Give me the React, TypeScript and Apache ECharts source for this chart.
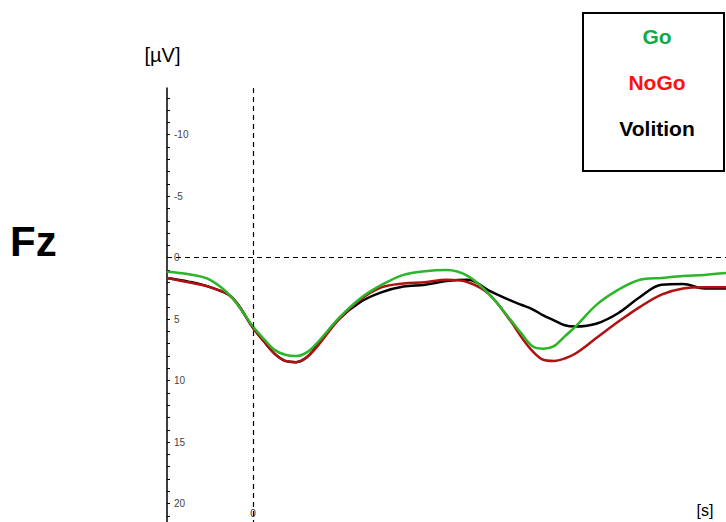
import React, { useEffect, useRef } from "react";
import * as echarts from "echarts";

const times = [-0.2, -0.15, -0.1, -0.05, 0, 0.025, 0.05, 0.075, 0.1, 0.125, 0.15, 0.2, 0.25, 0.3, 0.35, 0.4, 0.45, 0.5, 0.55, 0.6, 0.625, 0.65, 0.675, 0.7, 0.725, 0.75, 0.8, 0.85, 0.9, 0.95, 1.0, 1.05, 1.1];

const volition = [1.65, 1.95, 2.4, 3.2, 5.7, 6.8, 7.8, 8.4, 8.5, 8.1, 7.1, 5.0, 3.6, 2.8, 2.35, 2.2, 1.9, 1.8, 2.7, 3.5, 3.85, 4.2, 4.7, 5.1, 5.5, 5.6, 5.35, 4.5, 3.2, 2.2, 2.15, 2.5, 2.5];
const nogo = [1.65, 2.0, 2.4, 3.2, 5.7, 6.8, 7.8, 8.4, 8.5, 8.1, 7.2, 5.0, 3.4, 2.4, 2.1, 2.0, 1.8, 2.0, 3.0, 5.2, 6.5, 7.6, 8.3, 8.4, 8.2, 7.8, 6.5, 5.2, 4.0, 3.0, 2.5, 2.4, 2.4];
const go = [1.15, 1.35, 1.8, 3.2, 5.6, 6.6, 7.5, 7.9, 8.0, 7.7, 6.9, 4.9, 3.3, 2.2, 1.4, 1.1, 1.0, 1.5, 3.0, 5.1, 6.2, 7.2, 7.4, 7.2, 6.4, 5.6, 3.8, 2.6, 1.8, 1.65, 1.5, 1.4, 1.25];

const yTickValues = [-13, -12, -11, -10, -9, -8, -7, -6, -5, -4, -3, -2, -1, 0, 1, 2, 3, 4, 5, 6, 7, 8, 9, 10, 11, 12, 13, 14, 15, 16, 17, 18, 19, 20, 21];
const yLabelValues = [-10, -5, 0, 5, 10, 15, 20];
const xLabelValues = [0];

const legendItems = [
  { name: "Go", color: "#12aa48" },
  { name: "NoGo", color: "#ff1010" },
  { name: "Volition", color: "#000000" },
];

export default function App() {
  const ref = useRef<HTMLDivElement>(null);
  useEffect(() => {
    if (!ref.current) return;
    const chart = echarts.init(ref.current, null, { renderer: "svg" });
    const mk = (arr: number[]) => times.map((t, i) => [t, arr[i]]);
    chart.setOption({
      animation: false,
      grid: { left: 167, right: 0, top: 88, bottom: 0 },
      xAxis: {
        type: "value",
        min: -0.2,
        max: 1.1,
        axisLine: { show: false, onZero: false },
        axisTick: { show: false },
        splitLine: { show: false },
        axisLabel: {
          inside: true,
          customValues: xLabelValues,
          margin: 4,
          fontSize: 10,
          color: "#333",
          fontFamily: "Liberation Sans",
        },
      },
      yAxis: {
        type: "value",
        inverse: true,
        min: -13.8,
        max: 21.5,
        axisLine: { show: true, onZero: false, lineStyle: { color: "#000", width: 1.5 } },
        axisTick: {
          show: true,
          inside: true,
          length: 3,
          customValues: yTickValues,
          lineStyle: { color: "#000", width: 1 },
        },
        splitLine: { show: false },
        axisLabel: {
          inside: true,
          customValues: yLabelValues,
          margin: 7,
          fontSize: 10,
          color: "#444",
          fontFamily: "Liberation Sans",
        },
      },
      series: [
        {
          type: "line",
          name: "Volition",
          data: mk(volition),
          smooth: 0.35,
          symbol: "none",
          lineStyle: { color: "#000000", width: 2.5 },
          markLine: {
            silent: true,
            symbol: "none",
            label: { show: false },
            lineStyle: { color: "#000", type: [5, 4], width: 1.2 },
            data: [{ xAxis: 0 }, { yAxis: 0 }],
          },
        },
        {
          type: "line",
          name: "NoGo",
          data: mk(nogo),
          smooth: 0.35,
          symbol: "none",
          lineStyle: { color: "#b01212", width: 2.5 },
        },
        {
          type: "line",
          name: "Go",
          data: mk(go),
          smooth: 0.35,
          symbol: "none",
          lineStyle: { color: "#2ab52a", width: 2.5 },
        },
      ],
      graphic: [
        {
          type: "text",
          x: 10,
          y: 241,
          style: { text: "Fz", font: "bold 42px 'Liberation Sans'", fill: "#000", verticalAlign: "middle" },
        },
        {
          type: "text",
          x: 162.5,
          y: 55,
          style: { text: "[µV]", font: "20px 'Liberation Sans'", fill: "#000", align: "center", verticalAlign: "middle" },
        },
        {
          type: "text",
          x: 705,
          y: 510,
          style: { text: "[s]", font: "16px 'Liberation Sans'", fill: "#000", align: "center", verticalAlign: "middle" },
        },
        {
          type: "rect",
          shape: { x: 583, y: 13, width: 141, height: 158 },
          style: { fill: "#fff", stroke: "#000", lineWidth: 2 },
        },
        ...legendItems.map((it, i) => ({
          type: "text",
          x: 657,
          y: 36 + i * 46,
          style: {
            text: it.name,
            font: "bold 21px 'Liberation Sans'",
            fill: it.color,
            align: "center",
            verticalAlign: "middle",
          },
        })),
      ],
    });
    return () => chart.dispose();
  }, []);
  return (
    <div
      ref={ref}
      style={{ position: "fixed", left: 0, top: 0, width: 726, height: 522, background: "#fff" }}
    />
  );
}
